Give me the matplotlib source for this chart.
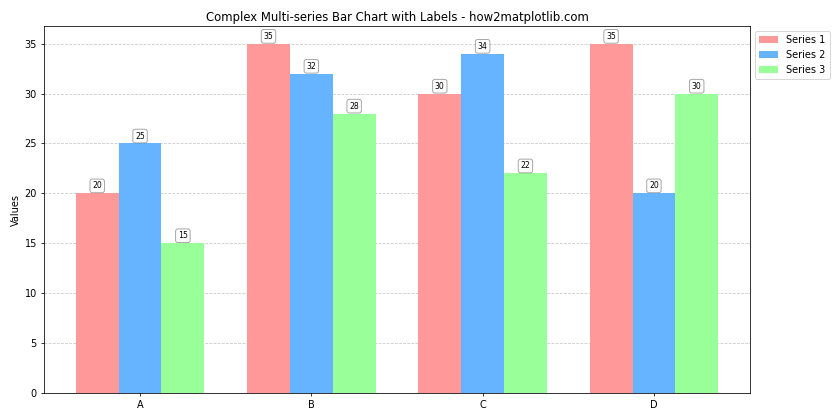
import matplotlib.pyplot as plt
import numpy as np

categories = ["A", "B", "C", "D"]
series1 = [20, 35, 30, 35]
series2 = [25, 32, 34, 20]
series3 = [15, 28, 22, 30]
series_names = ["Series 1", "Series 2", "Series 3"]
colors = ["#ff9999", "#66b3ff", "#99ff99"]

x = np.arange(len(categories))
width = 0.25

fig, ax = plt.subplots(figsize=(12, 6), dpi=70)

for i, (vals, name, c) in enumerate(zip([series1, series2, series3], series_names, colors)):
    bars = ax.bar(x + (i - 1) * width, vals, width, label=name, color=c)
    for b in bars:
        h = b.get_height()
        ax.annotate(f"{h:.0f}", xy=(b.get_x() + b.get_width() / 2, h),
                    xytext=(0, 3), textcoords="offset points",
                    ha="center", va="bottom", fontsize=8,
                    bbox=dict(boxstyle="round,pad=0.3", fc="white", ec="gray", alpha=0.7))

ax.set_ylabel("Values")
ax.set_title("Complex Multi-series Bar Chart with Labels - how2matplotlib.com")
ax.set_xticks(x)
ax.set_xticklabels(categories)
ax.legend(loc="upper left", bbox_to_anchor=(1, 1))
ax.grid(axis="y", linestyle="--", alpha=0.7)
ax.set_axisbelow(True)

plt.tight_layout()
plt.savefig("out.png")
